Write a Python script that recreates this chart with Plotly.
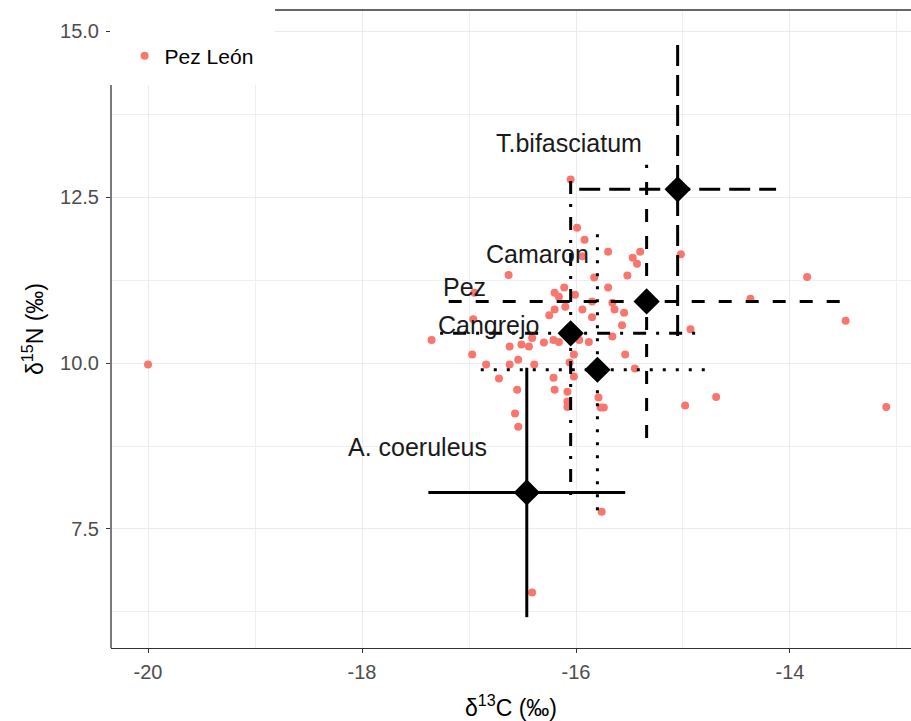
import plotly.graph_objects as go

# ---- Data: Pez León (consumer) isotope values ----
pez_leon_c = [-20.00, -16.05, -15.99, -15.92, -15.70, -15.94, -15.47, -15.40, -15.43, -15.52,
              -15.83, -15.70, -16.63, -15.02, -16.95, -16.20, -16.11, -16.16, -16.01, -16.10,
              -15.94, -15.85, -15.66, -15.64, -15.55, -16.20, -16.25, -15.85, -15.57, -15.66,
              -15.88, -15.97, -15.54, -15.45, -16.02, -16.02, -15.79, -15.77, -15.74, -14.98,
              -14.69, -14.93, -14.37, -13.84, -13.48, -13.10, -15.76, -16.41, -16.54, -16.57,
              -16.55, -16.72, -16.84, -16.97, -17.35, -16.96, -16.62, -16.54, -16.62, -16.51,
              -16.44, -16.39, -16.30, -16.21, -16.16, -16.21, -16.20, -16.08, -16.08, -16.08,
              -16.06, -16.41]
pez_leon_n = [9.98, 12.77, 12.04, 11.86, 11.68, 11.61, 11.59, 11.68, 11.50, 11.32,
              11.29, 11.14, 11.33, 11.64, 11.06, 11.06, 11.14, 11.00, 11.03, 10.85,
              10.81, 10.93, 10.91, 10.81, 10.76, 10.81, 10.72, 10.69, 10.57, 10.40,
              10.32, 10.35, 10.13, 9.92, 10.13, 9.80, 9.48, 9.33, 9.33, 9.36,
              9.49, 10.51, 10.97, 11.30, 10.64, 9.34, 7.76, 6.54, 9.04, 9.24,
              9.60, 9.77, 9.98, 10.13, 10.35, 10.66, 9.98, 10.05, 10.25, 10.28,
              10.25, 9.98, 10.31, 10.35, 10.32, 9.78, 9.60, 9.57, 9.42, 9.34,
              10.01, 10.38]

# ---- Data: prey sources (mean ± SD) ----
source_names = ["A. coeruleus", "Camaron", "Cangrejo", "Pez", "T.bifasciatum"]
source_c_mean = [-16.46, -15.34, -15.80, -16.05, -15.05]
source_c_sd = [0.92, 1.85, 1.09, 1.22, 0.92]
source_n_mean = [8.05, 10.93, 9.90, 10.45, 12.62]
source_n_sd = [1.88, 2.06, 2.12, 2.44, 2.21]

# label positions (data coords)
label_text = ["T.bifasciatum", "Camaron", "Pez", "Cangrejo", "A. coeruleus"]
label_x = [-16.07, -16.36, -17.04, -16.82, -17.48]
label_y = [13.32, 11.65, 11.15, 10.58, 8.74]

x_ticks = [-20, -18, -16, -14]
x_minor = [-19, -17, -15, -13]
y_ticks = [7.5, 10.0, 12.5, 15.0]
y_minor = [6.25, 8.75, 11.25, 13.75]

# ---- styles ----
dash_styles = {
    "A. coeruleus": "solid",
    "Camaron": "13px,14px",
    "Cangrejo": "3px,10px",
    "Pez": "3px,10px,13px,10px",
    "T.bifasciatum": "21px,9px",
}

fig = go.Figure()

fig.add_trace(go.Scatter(
    x=pez_leon_c, y=pez_leon_n, mode="markers", name="Pez León",
    marker=dict(color="#F8766D", size=8, line=dict(width=0)),
))

for i, nm in enumerate(source_names):
    cx, cy = source_c_mean[i], source_n_mean[i]
    sx, sy = source_c_sd[i], source_n_sd[i]
    d = dash_styles[nm]
    fig.add_trace(go.Scatter(x=[cx - sx, cx + sx], y=[cy, cy], mode="lines",
                             line=dict(color="black", width=3, dash=d),
                             showlegend=False, hoverinfo="skip"))
    fig.add_trace(go.Scatter(x=[cx, cx], y=[cy - sy, cy + sy], mode="lines",
                             line=dict(color="black", width=3, dash=d),
                             showlegend=False, hoverinfo="skip"))

fig.add_trace(go.Scatter(
    x=source_c_mean, y=source_n_mean, mode="markers", showlegend=False,
    marker=dict(symbol="diamond", color="black", size=18, line=dict(color="black", width=2)),
))

for t, lx, ly in zip(label_text, label_x, label_y):
    fig.add_annotation(x=lx, y=ly, text=t, showarrow=False, xanchor="center", yanchor="middle",
                       font=dict(size=25, color="#1a1a1a"))

L, T, R, B = 111, 10, 0, 73
W, H = 911, 721
pw, ph = W - L - R, H - T - B
cover_x1 = (275 - L) / pw
cover_y0 = 1 - (85 - T) / ph

fig.update_layout(
    width=W, height=H,
    margin=dict(l=L, r=R, t=T, b=B, pad=0),
    paper_bgcolor="white", plot_bgcolor="white",
    font=dict(family="Liberation Sans, Arial, sans-serif", color="black"),
    showlegend=True,
    legend=dict(x=0.017, y=0.96, xanchor="left", yanchor="top",
                bgcolor="rgba(0,0,0,0)", font=dict(size=21, color="black"),
                itemsizing="trace"),
    xaxis=dict(
        range=[-20.346, -12.869], tickvals=x_ticks, ticktext=[str(v) for v in x_ticks],
        ticks="outside", ticklen=4, tickwidth=1.2, tickcolor="#333333",
        tickfont=dict(size=20, color="#4d4d4d"), ticklabelstandoff=2,
        showline=True, linecolor="#333333", linewidth=1.3,
        showgrid=True, gridcolor="#ebebeb", gridwidth=1.2, zeroline=False,
        minor=dict(tickvals=x_minor, showgrid=True, gridcolor="#efefef", gridwidth=0.7, ticks=""),
        title=dict(text="δ<sup>13</sup>C (‰)", font=dict(size=23, color="black"), standoff=18),
    ),
    yaxis=dict(
        range=[5.705, 15.324], tickvals=y_ticks, tickformat=".1f",
        ticks="outside", ticklen=4, tickwidth=1.2, tickcolor="#333333",
        tickfont=dict(size=20, color="#4d4d4d"), ticklabelstandoff=3,
        showline=False,
        showgrid=True, gridcolor="#ebebeb", gridwidth=1.2, zeroline=False,
        minor=dict(tickvals=y_minor, showgrid=True, gridcolor="#efefef", gridwidth=0.7, ticks=""),
        title=dict(text="δ<sup>15</sup>N (‰)", font=dict(size=23, color="black"), standoff=10),
    ),
    shapes=[
        dict(type="rect", xref="paper", yref="paper", x0=0, x1=cover_x1, y0=cover_y0, y1=1.02,
             fillcolor="white", line=dict(width=0), layer="above"),
        dict(type="line", xref="paper", yref="paper", x0=0, x1=0, y0=0, y1=cover_y0,
             line=dict(color="#333333", width=1.3), layer="above"),
        dict(type="line", xref="paper", yref="paper", x0=cover_x1, x1=1, y0=1, y1=1,
             line=dict(color="#333333", width=1.3), layer="above"),
    ],
)

fig.write_html("out.html")
